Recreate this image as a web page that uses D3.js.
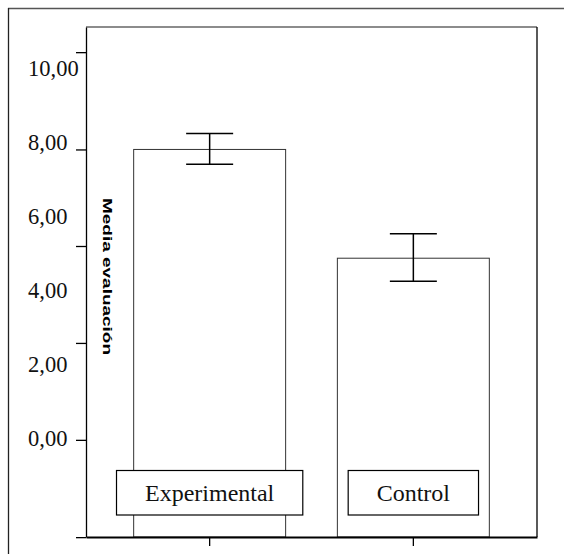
<!DOCTYPE html>
<html><head><meta charset="utf-8">
<script src="https://cdn.jsdelivr.net/npm/d3@7"></script>
<style>body{margin:0;background:#fff}svg{display:block}</style>
</head><body>
<script>
const categories = ["Experimental", "Control"];
const means = [7.80, 4.86];
const ciLow = [7.40, 4.24];
const ciHigh = [8.23, 5.52];
const tickLabels = [0, 2, 4, 6, 8, 10];
const tickMarks = [-2.68, -0.05, 2.57, 5.19, 7.80, 10.43];
const yTitle = "Media evaluación";

const W = 564, H = 554;
const svg = d3.select("body").append("svg").attr("width", W).attr("height", H);
const pLeft = 86, pRight = 537, pTop = 27, pBottom = 537;

const y = d3.scaleLinear().domain([-2.676, 11.11]).range([pBottom, pTop]);
const x = d3.scaleBand().domain(categories).range([pLeft, pRight]).paddingInner(0.254).paddingOuter(0.234);

// outer frame (top and left)
svg.append("line").attr("x1", 8).attr("x2", W).attr("y1", 8.5).attr("y2", 8.5).attr("stroke", "#555").attr("stroke-width", 1.3);
svg.append("line").attr("x1", 8.5).attr("x2", 8.5).attr("y1", 8).attr("y2", H).attr("stroke", "#222").attr("stroke-width", 1.3);

// plot frame
svg.append("line").attr("x1", pLeft).attr("x2", pRight).attr("y1", pTop).attr("y2", pTop).attr("stroke", "#666").attr("stroke-width", 1.3);
svg.append("line").attr("x1", pRight).attr("x2", pRight).attr("y1", pTop).attr("y2", pBottom).attr("stroke", "#000").attr("stroke-width", 1.3);

// bars
svg.selectAll("rect.bar").data(categories).join("rect").attr("class", "bar")
  .attr("x", d => x(d)).attr("width", x.bandwidth())
  .attr("y", (d, i) => y(means[i])).attr("height", (d, i) => pBottom - y(means[i]))
  .attr("fill", "#fff").attr("stroke", "#333").attr("stroke-width", 1);

// error bars
const capW = 47;
categories.forEach((c, i) => {
  const cx = x(c) + x.bandwidth() / 2;
  const g = svg.append("g").attr("stroke", "#000").attr("stroke-width", 1.5);
  g.append("line").attr("x1", cx).attr("x2", cx).attr("y1", y(ciHigh[i])).attr("y2", y(ciLow[i]));
  g.append("line").attr("x1", cx - capW / 2).attr("x2", cx + capW / 2).attr("y1", y(ciHigh[i])).attr("y2", y(ciHigh[i]));
  g.append("line").attr("x1", cx - capW / 2).attr("x2", cx + capW / 2).attr("y1", y(ciLow[i])).attr("y2", y(ciLow[i]));
});

// y axis line and tick marks
const yMarks = d3.axisLeft(y).tickValues(tickMarks).tickFormat("").tickSize(10).tickSizeOuter(0);
const gm = svg.append("g").attr("transform", `translate(${pLeft},0)`).call(yMarks);
gm.select(".domain").attr("stroke", "#000").attr("stroke-width", 1.3);
gm.selectAll(".tick line").attr("stroke", "#000").attr("stroke-width", 1.3);

// y tick labels (left aligned)
const fmt = v => d3.format(".2f")(v).replace(".", ",");
svg.selectAll("text.ylab").data(tickLabels).join("text").attr("class", "ylab")
  .attr("x", 28).attr("y", d => y(d)).attr("dy", "0.35em")
  .attr("font-family", "Liberation Serif, Times New Roman, serif").attr("font-size", 22.5)
  .attr("fill", "#111").text(fmt);

// bottom axis
const xa = d3.axisBottom(x).tickSize(9).tickFormat("").tickSizeOuter(0);
const gx = svg.append("g").attr("transform", `translate(0,${pBottom})`).call(xa);
gx.select(".domain").attr("stroke", "#000").attr("stroke-width", 2.2);
gx.selectAll(".tick line").attr("stroke", "#000").attr("stroke-width", 1.3);

// y title
svg.append("text").attr("transform", `translate(102.5,${276.5}) rotate(90)`)
  .attr("text-anchor", "middle")
  .attr("font-family", "Liberation Sans, Arial, sans-serif").attr("font-weight", "bold").attr("font-size", 13)
  .attr("textLength", 157).attr("lengthAdjust", "spacingAndGlyphs")
  .text(yTitle);

// category label boxes
categories.forEach((c, i) => {
  const cx = x(c) + x.bandwidth() / 2;
  const g = svg.append("g");
  const r = g.append("rect");
  const t = g.append("text").attr("x", cx).attr("y", 501).attr("text-anchor", "middle")
    .attr("font-family", "Liberation Serif, Times New Roman, serif").attr("font-size", 24)
    .attr("fill", "#111").text(c);
  const w = t.node().getComputedTextLength();
  r.attr("x", cx - w / 2 - 28.5).attr("width", w + 57).attr("y", 470.5).attr("height", 44.5)
    .attr("fill", "#fff").attr("stroke", "#000").attr("stroke-width", 1.2);
});
</script>
</body></html>
